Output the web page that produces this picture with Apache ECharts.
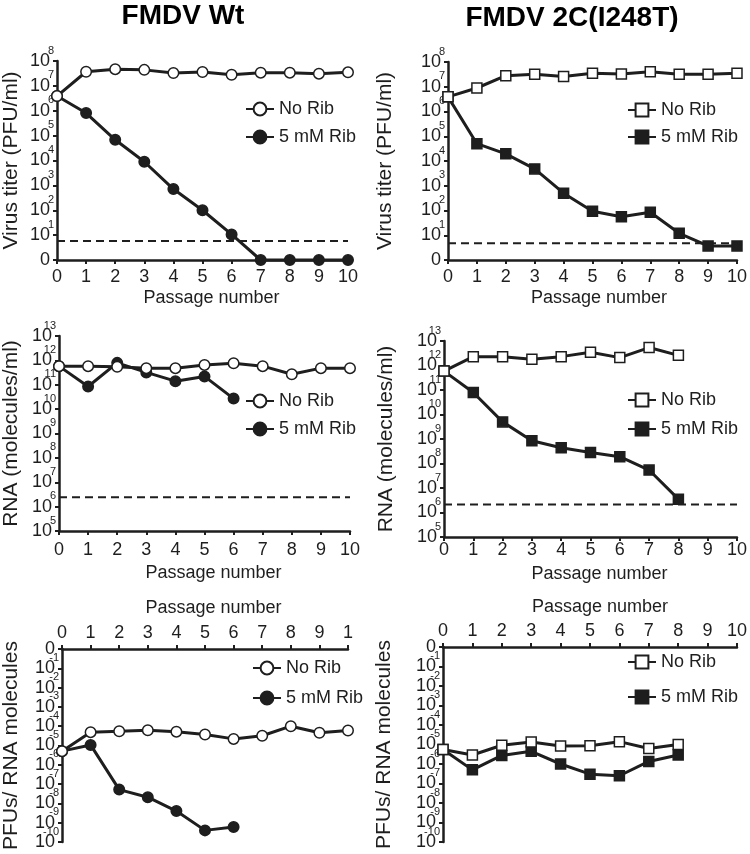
<!DOCTYPE html>
<html><head><meta charset="utf-8">
<script src="https://cdn.jsdelivr.net/npm/echarts@6/dist/echarts.min.js"></script>
<style>html,body{margin:0;padding:0;background:#fff}#c{width:750px;height:854px}</style>
</head><body><div id="c"></div>
<script>
// ---------- data ----------
const passages = [0, 1, 2, 3, 4, 5, 6, 7, 8, 9, 10];
const xLabelsStd = ['0', '1', '2', '3', '4', '5', '6', '7', '8', '9', '10'];
const xLabelsWtRatio = ['0', '1', '2', '3', '4', '5', '6', '7', '8', '9', '1'];

const wtTiterNoRib = [3.9e6, 3.7e7, 4.7e7, 4.4e7, 3.3e7, 3.6e7, 2.8e7, 3.4e7, 3.4e7, 3.1e7, 3.5e7];
const wtTiterRib = [3.9e6, 8.1e5, 6.8e4, 8.9e3, 710, 100, 10.7, 1, 1, 1, 1];
const mutTiterNoRib = [3.9e6, 8.9e6, 2.8e7, 3.2e7, 2.6e7, 3.5e7, 3.3e7, 4.0e7, 3.2e7, 3.2e7, 3.5e7];
const mutTiterRib = [3.9e6, 5.0e4, 1.95e4, 4.8e3, 500, 93, 56, 85, 12, 3.7, 3.7];

const wtRnaNoRib = [5.8e11, 5.8e11, 5.5e11, 4.8e11, 4.8e11, 6.5e11, 7.6e11, 5.8e11, 2.7e11, 4.8e11, 4.8e11];
const wtRnaRib = [5.8e11, 8.5e10, 7.9e11, 3.2e11, 1.4e11, 2.2e11, 2.7e10];
const mutRnaNoRib = [5.9e11, 2.3e12, 2.3e12, 1.8e12, 2.3e12, 3.5e12, 2.1e12, 5.4e12, 2.6e12];
const mutRnaRib = [5.9e11, 7.9e10, 5.0e9, 8.5e8, 4.4e8, 2.8e8, 1.9e8, 5.4e7, 3.5e6];

const wtRatioNoRib = [5.1e-6, 4.9e-5, 5.5e-5, 6.2e-5, 5.2e-5, 3.7e-5, 2.2e-5, 3.2e-5, 1.0e-4, 4.6e-5, 6.0e-5];
const wtRatioRib = [5.1e-6, 1.07e-5, 5.2e-8, 2.1e-8, 4.0e-9, 4.0e-10, 6.0e-10];
const mutRatioNoRib = [5.6e-6, 2.9e-6, 9.1e-6, 1.35e-5, 8.3e-6, 8.7e-6, 1.4e-5, 6.2e-6, 1.0e-5];
const mutRatioRib = [5.6e-6, 5.0e-7, 2.75e-6, 4.5e-6, 1.0e-6, 3.0e-7, 2.5e-7, 1.35e-6, 2.9e-6];

const limitTiterWt = [5.8, 5.8];
const limitTiterMut = [4.7, 4.7];
const limitRnaWt = [2.4e6, 2.4e6];
const limitRnaMut = [2.1e6, 2.1e6];
const limitX = [0, 10];

const titles = ['FMDV Wt', 'FMDV 2C(I248T)'];
const legendNames = ['No Rib', '5 mM Rib'];

// ---------- styling ----------
const ink = '#1e1e1e';
const FF = '"Liberation Sans", Arial, sans-serif';

const grids = [
  {left: 56, top: 61, width: 292, height: 199},
  {left: 448, top: 62, width: 291, height: 198},
  {left: 57, top: 336, width: 293, height: 195},
  {left: 444, top: 341, width: 294, height: 196},
  {left: 60, top: 649, width: 288, height: 193},
  {left: 443, top: 647, width: 294, height: 195}
];

function pairs(vals) { return vals.map((v, i) => [passages[i], v]); }

function isOne(v) { return Math.abs(v - 1) < 1e-12; }
function baseLabel(v) { return isOne(v) ? '0' : '10'; }
function expLabel(v) { return isOne(v) ? '' : String(Math.round(Math.log10(v))); }

function xAxis(gi, labels, pos, margin, nameGap, shift) {
  return {
    type: 'value', gridIndex: gi, min: 0, max: 10, interval: 1, position: pos,
    name: 'Passage number', nameLocation: 'middle', nameGap: nameGap,
    nameTextStyle: {fontSize: 18, fontFamily: FF, color: ink, padding: [0, 0, 0, shift]},
    axisLine: {show: true, lineStyle: {color: ink, width: 2.5}},
    axisTick: {show: true, length: 4, lineStyle: {color: ink, width: 2}},
    splitLine: {show: false},
    axisLabel: {margin: margin, fontSize: 18, fontFamily: FF, color: ink,
      showMinLabel: true, showMaxLabel: true, hideOverlap: false,
      formatter: v => labels[passages.indexOf(Math.round(v))]}
  };
}

// main log axis: line, ticks and the "10" base of each label
function yAxis(gi, min, max, name, nameGap) {
  return {
    type: 'log', logBase: 10, gridIndex: gi, min: min, max: max, interval: 1, position: 'left',
    name: name, nameLocation: 'middle', nameGap: nameGap,
    nameTextStyle: {fontSize: 21, fontFamily: FF, color: ink},
    axisLine: {show: true, lineStyle: {color: ink, width: 2.5}},
    axisTick: {show: true, length: 4, lineStyle: {color: ink, width: 2}},
    splitLine: {show: false},
    axisLabel: {margin: 7, fontSize: 18, lineHeight: 18, fontFamily: FF, color: ink,
      formatter: baseLabel, showMinLabel: true, showMaxLabel: true, hideOverlap: false}
  };
}

// companion log axis carrying only the superscript exponents
function yExpAxis(gi, min, max) {
  return {
    type: 'log', logBase: 10, gridIndex: gi, min: min, max: max, interval: 1, position: 'left',
    axisLine: {show: false}, axisTick: {show: false}, splitLine: {show: false},
    axisLabel: {margin: 3, fontSize: 11, lineHeight: 11, fontFamily: FF, color: ink,
      verticalAlign: 'bottom', padding: [0, 0, 5, 0],
      formatter: expLabel, showMinLabel: true, showMaxLabel: true, hideOverlap: false}
  };
}

function dataSeries(gi, name, vals, symbol, filled) {
  return {
    type: 'line', name: name, xAxisIndex: gi, yAxisIndex: gi * 2,
    data: pairs(vals), symbol: symbol, symbolSize: symbol === 'rect' ? 10 : 10.5,
    showSymbol: true, clip: false,
    lineStyle: {color: ink, width: 3},
    itemStyle: {color: filled ? ink : '#fff', borderColor: ink, borderWidth: 1.5},
    z: filled ? 3 : 4, animation: false
  };
}

function limitSeries(gi, vals) {
  return {
    type: 'line', name: 'limit' + gi, xAxisIndex: gi, yAxisIndex: gi * 2,
    data: vals.map((v, i) => [limitX[i], v]), symbol: 'none',
    lineStyle: {color: ink, width: 2, type: [8, 5]}, z: 2, animation: false, silent: true
  };
}

function legend(gi, left, top, gap) {
  return {
    data: [legendNames[0] + '#' + gi, legendNames[1] + '#' + gi],
    orient: 'vertical', left: left, top: top, itemWidth: 28, itemHeight: 16, itemGap: gap,
    selectedMode: false, formatter: n => n.split('#')[0],
    textStyle: {fontSize: 18, fontFamily: FF, color: ink}
  };
}

const series = [];
const panels = [
  [0, wtTiterNoRib, wtTiterRib, 'circle', limitTiterWt],
  [1, mutTiterNoRib, mutTiterRib, 'rect', limitTiterMut],
  [2, wtRnaNoRib, wtRnaRib, 'circle', limitRnaWt],
  [3, mutRnaNoRib, mutRnaRib, 'rect', limitRnaMut],
  [4, wtRatioNoRib, wtRatioRib, 'circle', null],
  [5, mutRatioNoRib, mutRatioRib, 'rect', null]
];
panels.forEach(p => {
  if (p[4]) series.push(limitSeries(p[0], p[4]));
  series.push(dataSeries(p[0], legendNames[1] + '#' + p[0], p[2], p[3], true));
  series.push(dataSeries(p[0], legendNames[0] + '#' + p[0], p[1], p[3], false));
});

const yDefs = [
  [0, 1, 1e8, 'Virus titer (PFU/ml)', 35],
  [1, 1, 1e8, 'Virus titer (PFU/ml)', 52],
  [2, 1e5, 1e13, 'RNA (molecules/ml)', 37],
  [3, 1e5, 1e13, 'RNA (molecules/ml)', 47],
  [4, 1e-10, 1, 'PFUs/ RNA molecules', 40],
  [5, 1e-10, 1, 'PFUs/ RNA molecules', 48]
];
const yAxes = [];
yDefs.forEach(d => {
  yAxes.push(yAxis(d[0], d[1], d[2], d[3], d[4]));
  yAxes.push(yExpAxis(d[0], d[1], d[2]));
});

const option = {
  backgroundColor: '#fff',
  animation: false,
  title: [
    {text: titles[0], left: 178, top: -3, textAlign: 'center',
     textStyle: {fontSize: 28, fontWeight: 'bold', fontFamily: FF, color: '#000'}},
    {text: titles[1], left: 567, top: -1, textAlign: 'center',
     textStyle: {fontSize: 28, fontWeight: 'bold', fontFamily: FF, color: '#000'}}
  ],
  grid: grids,
  xAxis: [
    xAxis(0, xLabelsStd, 'bottom', 8, 29, 18),
    xAxis(1, xLabelsStd, 'bottom', 8, 29, 13),
    xAxis(2, xLabelsStd, 'bottom', 10, 33, 18),
    xAxis(3, xLabelsStd, 'bottom', 4, 28, 18),
    xAxis(4, xLabelsWtRatio, 'top', 7, 32, 17),
    xAxis(5, xLabelsStd, 'top', 7, 31, 20)
  ],
  yAxis: yAxes,
  legend: [
    legend(0, 240, 95, 10),
    legend(1, 622, 96, 9),
    legend(2, 240, 387, 10),
    legend(3, 622, 386, 11),
    legend(4, 247, 654, 12),
    legend(5, 622, 648, 17)
  ],
  series: series
};

const chart = echarts.init(document.getElementById('c'), null, {renderer: 'canvas'});
chart.setOption(option);
</script>
</body></html>
